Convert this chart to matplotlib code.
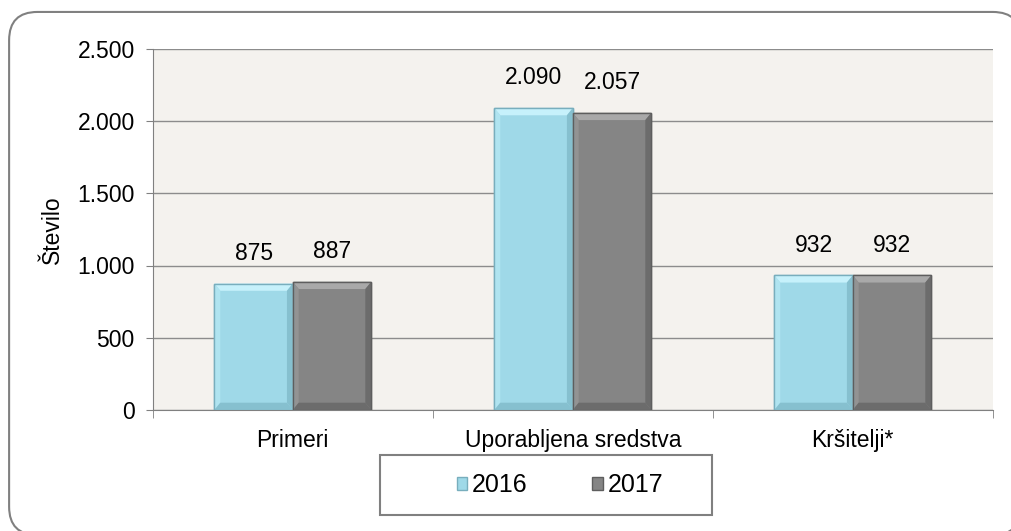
import numpy as np
import matplotlib.pyplot as plt
from matplotlib.patches import FancyBboxPatch, Polygon, Rectangle
from matplotlib.ticker import FuncFormatter

plt.rcParams['font.family'] = ['Liberation Sans', 'DejaVu Sans']

categories = ['Primeri', 'Uporabljena sredstva', 'Kršitelji*']
years = ['2016', '2017']
vals_2016 = [875, 2090, 932]
vals_2017 = [887, 2057, 932]
colors = ['#9fd9e8', '#858585']
edges = ['#78aebd', '#5e5e5e']
top_c = ['#c6f1fb', '#a9a9a9']
left_c = ['#b0e4f0', '#939393']
dark_c = ['#86c0cf', '#6c6c6c']

fig = plt.figure(figsize=(10.12, 5.31), dpi=100)
# rounded outer frame
frame = FancyBboxPatch((0.009, -0.0075), 1.0, 0.985, boxstyle='round,pad=0,rounding_size=0.028',
                       transform=fig.transFigure, facecolor='white', edgecolor='#808080',
                       linewidth=1.5, mutation_aspect=1.9, zorder=-5)
fig.patches.append(frame)

ax = fig.add_axes([0.151, 0.228, 0.830, 0.68])
ax.set_facecolor('#f4f2ee')

x = np.arange(len(categories))
w = 0.28
ylim = 2500
ax.set_xlim(-0.5, len(categories) - 0.5)
ax.set_ylim(0, ylim)

for i, vals in enumerate([vals_2016, vals_2017]):
    pos = x + (i - 0.5) * w
    ax.bar(pos, vals, width=w, color=colors[i], edgecolor=edges[i], linewidth=1.0,
           label=years[i], zorder=3)
    # bevel effect
    dx = w * 0.075
    dy = ylim * 0.02
    for p, v in zip(pos, vals):
        l, r = p - w / 2, p + w / 2
        ax.add_patch(Polygon([(l, v), (r, v), (r - dx, v - dy), (l + dx, v - dy)],
                             closed=True, facecolor=top_c[i], edgecolor='none', zorder=4))
        ax.add_patch(Polygon([(l, 0), (l, v), (l + dx, v - dy), (l + dx, dy)],
                             closed=True, facecolor=left_c[i], edgecolor='none', zorder=4))
        ax.add_patch(Polygon([(l, 0), (r, 0), (r - dx, dy), (l + dx, dy)],
                             closed=True, facecolor=dark_c[i], edgecolor='none', zorder=4))
        ax.add_patch(Polygon([(r, 0), (r, v), (r - dx, v - dy), (r - dx, dy)],
                             closed=True, facecolor=dark_c[i], edgecolor='none', zorder=4))
        ax.add_patch(Rectangle((l, 0), w, v, facecolor='none', edgecolor=edges[i],
                               linewidth=1.0, zorder=4.5))
        ax.text(p, v + ylim * 0.052, f'{v:,}'.replace(',', '.'), ha='center', va='bottom',
                fontsize=16.5, zorder=5)

ax.set_yticks(np.arange(0, ylim + 1, 500))
ax.yaxis.set_major_formatter(FuncFormatter(lambda v, _: f'{int(v):,}'.replace(',', '.')))
ax.grid(axis='y', color='#8c8c8c', linewidth=1.0, zorder=0)
ax.set_axisbelow(True)

ax.set_xticks(x)
ax.set_xticklabels(categories)
ax.set_xticks(np.arange(-0.5, len(categories), 1), minor=True)
ax.tick_params(axis='x', which='major', length=0, pad=14, labelsize=16.5)
ax.tick_params(axis='x', which='minor', length=6, color='#808080', direction='out')
ax.tick_params(axis='y', length=5, color='#808080', labelsize=16.5, pad=8)

for s in ['top', 'right']:
    ax.spines[s].set_visible(False)
ax.spines['left'].set_color('#808080')
ax.spines['bottom'].set_color('#808080')

ax.set_ylabel('Število', fontsize=16.5, labelpad=10)

# legend box
ax.add_patch(Rectangle((0.270, -0.291), 0.396, 0.166, transform=ax.transAxes,
                       facecolor='white', edgecolor='#808080', linewidth=1.5, clip_on=False))
leg = ax.legend(loc='center', bbox_to_anchor=(0.4845, -0.208), ncol=2, frameon=False,
                fontsize=18, handlelength=0.42, handleheight=0.42, handletextpad=0.18,
                columnspacing=2.6, borderpad=0, borderaxespad=0)

fig.savefig('out.png', dpi=100)
